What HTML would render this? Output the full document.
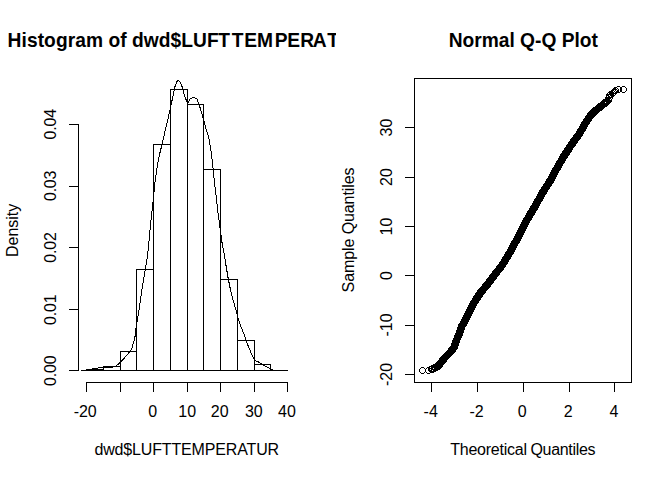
<!DOCTYPE html>
<html><head><meta charset="utf-8"><title>plot</title>
<style>
html,body{margin:0;padding:0;background:#fff;}
body{width:672px;height:480px;overflow:hidden;font-family:"Liberation Sans",sans-serif;}
svg{display:block;position:absolute;left:0;top:0;}
text{font-family:"Liberation Sans",sans-serif;fill:#000;}
.t{font-size:16px;}
.m{font-size:19.2px;font-weight:bold;}
</style></head><body>
<svg width="672" height="480" viewBox="0 0 672 480">
<rect width="672" height="480" fill="#fff"/>
<defs><path id="c" d="M2 0h3v1h-3zM1 1h1v1h-1zM5 1h1v1h-1zM0 2h1v3h-1zM6 2h1v3h-1zM1 5h1v1h-1zM5 5h1v1h-1zM2 6h3v1h-3z"/><clipPath id="cl"><rect x="0" y="0" width="336" height="480"/></clipPath></defs>
<g fill="#000" shape-rendering="crispEdges">
<rect x="78" y="124" width="1" height="247"/><rect x="69" y="124" width="10" height="1"/><rect x="69" y="186" width="10" height="1"/><rect x="69" y="247" width="10" height="1"/><rect x="69" y="309" width="10" height="1"/><rect x="69" y="370" width="10" height="1"/><rect x="86" y="382" width="202" height="1"/><rect x="86" y="382" width="1" height="10"/><rect x="120" y="382" width="1" height="10"/><rect x="153" y="382" width="1" height="10"/><rect x="187" y="382" width="1" height="10"/><rect x="220" y="382" width="1" height="10"/><rect x="254" y="382" width="1" height="10"/><rect x="287" y="382" width="1" height="10"/><rect x="86" y="369" width="18" height="1"/><rect x="86" y="369" width="1" height="2"/><rect x="103" y="369" width="1" height="2"/><rect x="103" y="366" width="18" height="1"/><rect x="103" y="366" width="1" height="5"/><rect x="120" y="366" width="1" height="5"/><rect x="120" y="351" width="17" height="1"/><rect x="120" y="351" width="1" height="20"/><rect x="136" y="351" width="1" height="20"/><rect x="136" y="269" width="18" height="1"/><rect x="136" y="269" width="1" height="102"/><rect x="153" y="269" width="1" height="102"/><rect x="153" y="144" width="18" height="1"/><rect x="153" y="144" width="1" height="227"/><rect x="170" y="144" width="1" height="227"/><rect x="170" y="89" width="18" height="1"/><rect x="170" y="89" width="1" height="282"/><rect x="187" y="89" width="1" height="282"/><rect x="187" y="104" width="17" height="1"/><rect x="187" y="104" width="1" height="267"/><rect x="203" y="104" width="1" height="267"/><rect x="203" y="169" width="18" height="1"/><rect x="203" y="169" width="1" height="202"/><rect x="220" y="169" width="1" height="202"/><rect x="220" y="279" width="18" height="1"/><rect x="220" y="279" width="1" height="92"/><rect x="237" y="279" width="1" height="92"/><rect x="237" y="340" width="18" height="1"/><rect x="237" y="340" width="1" height="31"/><rect x="254" y="340" width="1" height="31"/><rect x="254" y="364" width="17" height="1"/><rect x="254" y="364" width="1" height="7"/><rect x="270" y="364" width="1" height="7"/><rect x="270" y="370" width="18" height="1"/><rect x="270" y="370" width="1" height="1"/><rect x="287" y="370" width="1" height="1"/><rect x="86" y="370" width="202" height="1"/>
<rect x="414" y="78" width="218" height="1"/><rect x="414" y="382" width="218" height="1"/><rect x="414" y="78" width="1" height="305"/><rect x="631" y="78" width="1" height="305"/><rect x="431" y="382" width="1" height="10"/><rect x="477" y="382" width="1" height="10"/><rect x="523" y="382" width="1" height="10"/><rect x="569" y="382" width="1" height="10"/><rect x="614" y="382" width="1" height="10"/><rect x="405" y="127" width="10" height="1"/><rect x="405" y="177" width="10" height="1"/><rect x="405" y="226" width="10" height="1"/><rect x="405" y="275" width="10" height="1"/><rect x="405" y="325" width="10" height="1"/><rect x="405" y="374" width="10" height="1"/>
</g>
<polyline points="81.30,370.50 86.00,370.40 89.00,369.50 95.50,368.50 101.00,367.50 108.00,367.40 113.50,367.00 116.50,365.70 120.70,362.00 124.90,357.40 129.00,352.70 131.60,349.00 132.70,345.40 134.25,340.20 135.10,336.00 136.00,328.00 138.60,312.50 141.20,294.30 143.80,278.60 146.40,263.00 148.20,250.00 149.50,235.00 151.25,217.50 153.25,200.00 155.00,182.50 157.50,165.00 160.00,152.50 162.50,142.50 164.40,133.75 170.00,110.25 173.10,95.25 175.00,86.50 176.90,81.50 178.50,80.20 180.60,82.75 182.50,87.75 184.40,95.25 187.50,103.40 190.00,99.00 193.10,97.30 196.90,99.00 198.75,103.40 201.25,111.50 203.75,120.25 206.25,130.00 208.75,137.50 210.50,147.50 212.50,162.50 214.25,180.00 216.25,197.50 218.00,212.50 220.00,227.50 222.00,242.50 223.50,250.00 225.60,263.00 228.20,278.60 231.40,294.30 235.20,307.30 238.70,320.30 242.50,330.70 244.75,336.00 245.80,340.20 248.40,346.40 251.00,352.70 253.60,357.90 255.70,360.80 259.50,362.40 263.00,365.00 268.20,367.60 272.30,369.70 273.60,370.40" fill="none" stroke="#000" stroke-width="1" shape-rendering="crispEdges"/>
<polyline points="432.50,368.70 435.00,367.80 438.30,366.00 443.90,358.75 451.30,351.10 454.30,346.80 456.40,340.40 458.70,335.20 460.40,330.00 461.20,327.50 467.75,315.00 472.50,305.50 475.80,299.70 479.70,293.90 481.60,291.30 484.50,288.00 486.30,285.80 492.60,277.50 502.25,265.00 509.80,252.50 516.60,240.00 521.90,230.00 528.30,217.50 535.80,205.00 542.70,192.50 550.70,180.00 555.90,170.00 563.10,157.50 571.25,145.00 580.20,132.50 584.20,125.00 587.60,120.00 590.80,115.00 594.60,111.30 599.85,107.20 603.20,104.40 605.30,102.80" fill="none" stroke="#000" stroke-width="7.6" stroke-linecap="round" stroke-linejoin="round" shape-rendering="crispEdges"/>
<g fill="#000" shape-rendering="crispEdges"><use href="#c" x="419" y="367"/><use href="#c" x="425" y="367"/><use href="#c" x="428" y="366"/><use href="#c" x="429" y="366"/><use href="#c" x="430" y="365"/><use href="#c" x="431" y="365"/><use href="#c" x="620" y="86"/><use href="#c" x="615" y="86"/><use href="#c" x="612" y="87"/><use href="#c" x="611" y="88"/><use href="#c" x="610" y="89"/><use href="#c" x="609" y="90"/><use href="#c" x="608" y="91"/><use href="#c" x="607" y="91"/><use href="#c" x="607" y="92"/><use href="#c" x="606" y="92"/><use href="#c" x="606" y="93"/><use href="#c" x="606" y="94"/><use href="#c" x="605" y="95"/><use href="#c" x="605" y="97"/><use href="#c" x="604" y="97"/><use href="#c" x="603" y="98"/></g>
<g fill="#fff" shape-rendering="crispEdges"><rect x="430" y="367" width="1" height="1"/><rect x="430" y="369" width="1" height="1"/><rect x="433" y="368" width="1" height="1"/><rect x="432" y="370" width="1" height="1"/><rect x="608" y="93" width="1" height="1"/><rect x="614" y="94" width="1" height="1"/><rect x="609" y="95" width="1" height="1"/><rect x="610" y="96" width="1" height="1"/><rect x="607" y="96" width="1" height="1"/><rect x="611" y="98" width="1" height="1"/><rect x="610" y="99" width="1" height="1"/><rect x="605" y="102" width="1" height="1"/></g>
<!-- titles -->
<g clip-path="url(#cl)"><text class="m" transform="translate(7.6,47) scale(1,1.02)" letter-spacing="0.055" dx="0 0 0 0 0 0 0 0 0 0 0 0 0 0 0 0 0 0 0 0 -0.5 1.7 0.8 -0.3 1.7 -0.2 0.05 -1.45 2.2 0 0">Histogram of dwd$LUFTTEMPERATUR</text></g>
<text class="m" transform="translate(523.3,47) scale(1,1.02)" text-anchor="middle">Normal Q-Q Plot</text>
<!-- x tick labels left -->
<g class="t" text-anchor="middle">
<text x="85.2" y="416.6">-20</text>
<text x="152.7" y="416.6">0</text>
<text x="187.2" y="416.6">10</text>
<text x="219.7" y="416.6">20</text>
<text x="253.8" y="416.6">30</text>
<text x="287" y="416.6">40</text>
<text x="186.7" y="455.2" letter-spacing="-0.15">dwd$LUFTTEMPERATUR</text>
<text x="430.7" y="416.6">-4</text>
<text x="476.5" y="416.6">-2</text>
<text x="522.3" y="416.6">0</text>
<text x="568.1" y="416.6">2</text>
<text x="613.9" y="416.6">4</text>
</g>
<g class="t">
<text x="450.2" y="455.2" textLength="76.8" lengthAdjust="spacing">Theoretical</text>
<text x="530.5" y="455.2" textLength="65" lengthAdjust="spacing">Quantiles</text>
</g>
<!-- y tick labels left (rotated) -->
<g class="t" text-anchor="middle">
<text transform="translate(55.7,124.3) rotate(-90)" letter-spacing="-0.2">0.04</text>
<text transform="translate(55.7,185.9) rotate(-90)" letter-spacing="-0.2">0.03</text>
<text transform="translate(55.7,247.5) rotate(-90)" letter-spacing="-0.2">0.02</text>
<text transform="translate(55.7,309.8) rotate(-90)" letter-spacing="-0.2">0.01</text>
<text transform="translate(55.7,370.8) rotate(-90)" letter-spacing="-0.2">0.00</text>
<text transform="translate(17.5,230.4) rotate(-90)">Density</text>
<text transform="translate(391.7,127.5) rotate(-90)">30</text>
<text transform="translate(391.7,177) rotate(-90)">20</text>
<text transform="translate(391.7,226.5) rotate(-90)">10</text>
<text transform="translate(391.7,275.5) rotate(-90)">0</text>
<text transform="translate(391.7,325) rotate(-90)">-10</text>
<text transform="translate(391.7,374.5) rotate(-90)">-20</text>
<text transform="translate(353.5,230) rotate(-90)" letter-spacing="-0.09">Sample Quantiles</text>
</g>
</svg>
</body></html>
